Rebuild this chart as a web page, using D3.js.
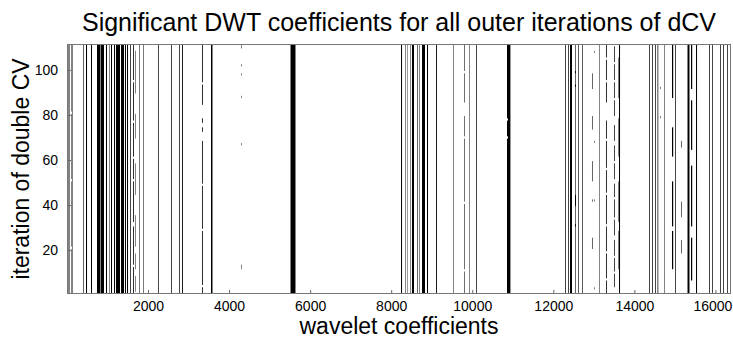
<!DOCTYPE html>
<html>
<head>
<meta charset="utf-8">
<script src="https://cdn.jsdelivr.net/npm/d3@7/dist/d3.min.js"></script>
<style>
  body { margin: 0; background: #fff; }
  text { font-family: "Liberation Sans", Arial, sans-serif; fill: #000; }
</style>
</head>
<body>
<div id="chart"></div>
<script>
const nCoefs = 16384;
const nIter = 111;
const xTicks = [2000, 4000, 6000, 8000, 10000, 12000, 14000, 16000];
const yTicks = [20, 40, 60, 80, 100];

// coefficient runs significant in every outer iteration: [first coefficient, run length]
const alwaysRuns = [
  [26, 12], [63, 12], [137, 12], [396, 15], [470, 25], [593, 25], [741, 74], [815, 12], [840, 74],
  [963, 25], [1037, 12], [1087, 25], [1161, 25], [1210, 99], [1334, 74],
  [1432, 25], [1482, 25], [1556, 18], [1778, 13], [1876, 13], [2246, 18],
  [2567, 18], [2765, 18], [2839, 22], [3554, 25], [3579, 12],
  [5504, 12], [5528, 99], [5627, 12],
  [8243, 25], [8341, 12], [8391, 10], [8465, 12], [8514, 49], [8637, 15],
  [8687, 12], [8761, 74], [8884, 25], [9106, 22], [9526, 12], [9920, 12],
  [10093, 18], [10883, 49], [10932, 10],
  [12289, 18], [12363, 18], [12413, 49], [12536, 15], [12610, 16], [12709, 16],
  [13128, 12], [13622, 25],
  [14362, 18], [14436, 18], [14510, 18], [14572, 18], [14732, 12], [15003, 18],
  [15300, 12], [15324, 25], [15349, 12], [15522, 25],
  [15842, 18], [15916, 18], [16114, 18], [16188, 18], [16287, 18], [16361, 20]
];

// coefficient runs significant only in some iterations: [first coefficient, run length, iteration ranges]
const partialRuns = [
  [100, 12, [[1, 20], [22, 50], [52, 80], [82, 111]]],
  [1630, 20, [[1, 12], [14, 30], [33, 50], [52, 60], [62, 76], [78, 94], [96, 111]]],
  [1679, 12, [[2, 8], [12, 18], [22, 35], [45, 58], [70, 80], [90, 108]]],
  [3332, 20, [[1, 3], [5, 28], [30, 48], [50, 68], [73, 74], [77, 78], [85, 93], [95, 111]]],
  [4295, 12, [[12, 13], [67, 67], [88, 88], [98, 98], [102, 102], [110, 111]]],
  [9797, 14, [[1, 10], [12, 40], [42, 69], [71, 79], [86, 98], [100, 111]]],
  [10858, 25, [[1, 69], [71, 77], [79, 111]]],
  [12536, 25, [[31, 31], [40, 44], [93, 93], [99, 99]]],
  [12955, 15, [[21, 25], [42, 42], [51, 59], [74, 79], [92, 98]]],
  [13005, 12, [[3, 3], [42, 42], [68, 68], [108, 108]]],
  [13301, 20, [[1, 6], [8, 18], [20, 30], [32, 44], [46, 55], [57, 68], [70, 77], [86, 94], [96, 104], [106, 111]]],
  [13498, 18, [[4, 9], [11, 16], [18, 24], [27, 33], [35, 42], [44, 49], [52, 58], [60, 66], [69, 75], [80, 86], [88, 94], [96, 102], [104, 110]]],
  [13597, 12, [[12, 28], [33, 50], [62, 78], [88, 105]]],
  [14634, 12, [[79, 79], [92, 92]]],
  [14929, 30, [[12, 28], [31, 50], [62, 74], [88, 111]]],
  [15151, 15, [[19, 24], [35, 41], [66, 68]]],
  [15398, 30, [[7, 25], [31, 57], [65, 86], [92, 111]]]
];

const width = 733, height = 338;
const margin = { top: 44, right: 2, bottom: 44, left: 67 };
const plotW = width - margin.left - margin.right;
const plotH = height - margin.top - margin.bottom;

const svg = d3.select("#chart").append("svg")
  .attr("width", width)
  .attr("height", height);

const g = svg.append("g")
  .attr("transform", `translate(${margin.left},${margin.top})`);

const x = d3.scaleLinear().domain([0.5, nCoefs + 0.5]).range([0, plotW]);
const y = d3.scaleLinear().domain([0.5, nIter + 0.5]).range([plotH, 0]);

// full-height runs
g.selectAll(".always")
  .data(alwaysRuns)
  .enter()
  .append("rect")
  .attr("class", "always")
  .attr("x", (d) => x(d[0] - 0.5))
  .attr("width", (d) => x(d[0] + d[1] - 0.5) - x(d[0] - 0.5))
  .attr("y", y(nIter + 0.5))
  .attr("height", y(0.5) - y(nIter + 0.5))
  .style("fill", "#000");

// partial runs, one rect per iteration range
const segs = partialRuns.flatMap((d) =>
  d[2].map((r) => ({ c: d[0], n: d[1], from: r[0], to: r[1] })));

g.selectAll(".partial")
  .data(segs)
  .enter()
  .append("rect")
  .attr("class", "partial")
  .attr("x", (d) => x(d.c - 0.5))
  .attr("width", (d) => x(d.c + d.n - 0.5) - x(d.c - 0.5))
  .attr("y", (d) => y(d.to + 0.5))
  .attr("height", (d) => y(d.from - 0.5) - y(d.to + 0.5))
  .style("fill", "#000");

// axes (ticks inside, like the original)
const xAxis = d3.axisBottom(x).tickValues(xTicks).tickFormat(d3.format("d"))
  .tickSize(-4).tickPadding(7);
const yAxis = d3.axisLeft(y).tickValues(yTicks).tickFormat(d3.format("d"))
  .tickSize(-4).tickPadding(9);

const gx = g.append("g")
  .attr("transform", `translate(0,${plotH})`)
  .call(xAxis);
const gy = g.append("g").call(yAxis);

[gx, gy].forEach((a) => {
  a.select(".domain").remove();
  a.selectAll(".tick line").style("stroke", "#666");
  a.selectAll(".tick text")
    .style("font-size", "14px")
    .style("font-family", "'Liberation Sans', Arial, sans-serif");
});
// keep the last label inside the page
gx.selectAll(".tick text").filter((d) => d === 16000).attr("dx", -3);

// box
g.append("rect")
  .attr("x", 0.5)
  .attr("y", 0.5)
  .attr("width", plotW - 1)
  .attr("height", plotH - 1)
  .style("fill", "none")
  .style("stroke", "#777")
  .style("stroke-width", 1);

// title and labels
svg.append("text")
  .attr("x", margin.left + plotW / 2)
  .attr("y", 31)
  .attr("text-anchor", "middle")
  .style("font-size", "25px")
  .text("Significant DWT coefficients for all outer iterations of dCV");

svg.append("text")
  .attr("x", margin.left + plotW / 2)
  .attr("y", 334)
  .attr("text-anchor", "middle")
  .style("font-size", "23px")
  .text("wavelet coefficients");

svg.append("text")
  .attr("transform", `translate(29,${margin.top + plotH / 2}) rotate(-90)`)
  .attr("text-anchor", "middle")
  .style("font-size", "23px")
  .text("iteration of double CV");
</script>
</body>
</html>
